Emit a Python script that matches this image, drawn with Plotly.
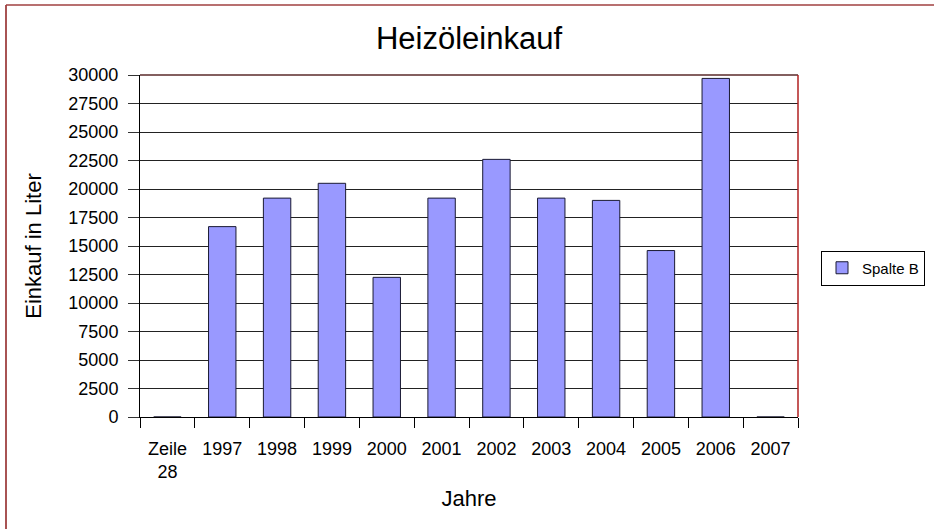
import plotly.graph_objects as go

categories = ["Zeile<br>28", "1997", "1998", "1999", "2000", "2001", "2002",
              "2003", "2004", "2005", "2006", "2007"]
values = [0, 16700, 19200, 20500, 12250, 19200, 22600, 19200, 19000, 14600, 29700, 0]
series_name = "Spalte B"
y_ticks = list(range(0, 30001, 2500))

FONT = "Liberation Sans, Arial, sans-serif"

fig = go.Figure()
fig.add_trace(go.Bar(
    x=categories, y=values, name=series_name,
    marker=dict(color="#9999FF", line=dict(color="#1a1a33", width=1)),
    showlegend=True,
))

W, H = 934, 529
L, R, T, B = 140, 136, 75, 112
pw, ph = W - L - R, H - T - B

def px_x(x):
    return (x - L) / pw

def px_y(y):
    return (H - B - y) / ph

fig.update_layout(
    width=W, height=H,
    margin=dict(l=L, r=R, t=T, b=B, autoexpand=False),
    paper_bgcolor="white", plot_bgcolor="white",
    font=dict(family=FONT, color="black", size=18),
    bargap=0.5,
    title=dict(text="Heizöleinkauf", x=px_x(469), xref="paper", xanchor="center",
               y=1 - 38 / H, yref="container", yanchor="middle",
               font=dict(size=31, family=FONT, color="black")),
    xaxis=dict(
        type="category", tickson="boundaries", ticks="outside", ticklen=10,
        tickcolor="black", showline=True, linecolor="black", linewidth=1,
        showgrid=False, tickfont=dict(size=18), ticklabelstandoff=15,
        title=dict(text="Jahre", font=dict(size=22), standoff=9),
        fixedrange=True,
    ),
    yaxis=dict(
        range=[0, 30000], tickvals=y_ticks, tickformat="d", ticks="outside", ticklen=11,
        tickcolor="#333", showline=True, linecolor="black", linewidth=1,
        showgrid=True, gridcolor="#222", gridwidth=1, zeroline=False,
        tickfont=dict(size=18), ticklabelstandoff=6,
        title=dict(text="Einkauf in Liter", font=dict(size=22), standoff=20),
        fixedrange=True,
    ),
    legend=dict(
        x=px_x(821), y=px_y(268), xanchor="left", yanchor="middle",
        bordercolor="black", borderwidth=1, bgcolor="white",
        font=dict(size=15), itemwidth=30,
    ),
    shapes=[
        # plot-area top and right border
        dict(type="line", xref="paper", yref="paper", x0=0, x1=1, y0=1, y1=1,
             line=dict(color="#5a2a2a", width=1.5)),
        dict(type="line", xref="paper", yref="paper", x0=1, x1=1, y0=0, y1=1,
             line=dict(color="#b02020", width=1.5)),
        # outer chart frame (left and top)
        dict(type="line", xref="paper", yref="paper",
             x0=px_x(6), x1=px_x(6), y0=px_y(5), y1=px_y(535),
             line=dict(color="#8b1a1a", width=1.5)),
        dict(type="line", xref="paper", yref="paper",
             x0=px_x(6), x1=px_x(940), y0=px_y(5), y1=px_y(5),
             line=dict(color="#a04040", width=1.5)),
    ],
)

fig.write_html("out.html", config={"displayModeBar": False},
               post_script="document.body.style.margin='0';document.body.style.overflow='hidden';")
